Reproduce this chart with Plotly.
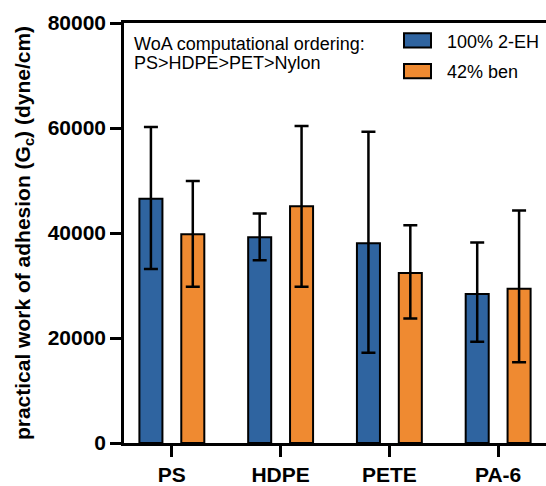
import plotly.graph_objects as go

categories = ["PS", "HDPE", "PETE", "PA-6"]
series_names = ["100% 2-EH", "42% ben"]
eh_values = [46500, 39200, 38050, 28400]
eh_err_plus = [13700, 4500, 21250, 9800]
eh_err_minus = [13350, 4400, 20850, 9100]
ben_values = [39750, 45100, 32400, 29400]
ben_err_plus = [10150, 15300, 9100, 14900]
ben_err_minus = [10000, 15350, 8700, 14000]
y_ticks = [0, 20000, 40000, 60000, 80000]
note_lines = ["WoA computational ordering:", "PS>HDPE>PET>Nylon"]

BLUE = "#2f64a0"
ORANGE = "#ef8a31"
FONT = "Arial, Liberation Sans, Helvetica, sans-serif"

fig = go.Figure()
for name, vals, ep, em, col in [
    (series_names[0], eh_values, eh_err_plus, eh_err_minus, BLUE),
    (series_names[1], ben_values, ben_err_plus, ben_err_minus, ORANGE),
]:
    fig.add_trace(go.Bar(
        x=categories, y=vals, name=name,
        marker=dict(color=col, line=dict(color="black", width=2)),
        error_y=dict(type="data", array=ep, arrayminus=em, symmetric=False,
                     color="black", thickness=2.5, width=7),
        showlegend=False,
    ))

# plot-area geometry in pixels (for placing text/legend in paper coords)
L, R, T, B = 124, 546, 22.7, 446.7
def px(x):
    return (x - L) / (R - L)
def py(y):
    return (B - y) / (B - T)

shapes = []
annotations = []
# manual legend
for i, (name, col) in enumerate(zip(series_names, [BLUE, ORANGE])):
    y0, y1 = [(33, 47.5), (64, 78.5)][i]
    shapes.append(dict(type="rect", xref="paper", yref="paper",
                       x0=px(404), x1=px(431), y0=py(y1), y1=py(y0),
                       fillcolor=col, line=dict(color="black", width=2)))
    annotations.append(dict(xref="paper", yref="paper", x=px(445), y=py([41.5, 72.3][i]),
                            text=name, showarrow=False, xanchor="left", yanchor="middle",
                            font=dict(family=FONT, size=18, color="black")))
for i, line in enumerate(note_lines):
    annotations.append(dict(xref="paper", yref="paper", x=px(132), y=py([43.5, 63][i]),
                            text=line, showarrow=False, xanchor="left", yanchor="middle",
                            font=dict(family=FONT, size=18, color="black")))

fig.update_layout(
    width=546, height=486,
    margin=dict(l=L, r=546 - R, t=T, b=486 - B, pad=0),
    paper_bgcolor="white", plot_bgcolor="white",
    barmode="group", bargap=0.23, bargroupgap=0.45,
    font=dict(family=FONT, color="black"),
    shapes=shapes, annotations=annotations,
    xaxis=dict(
        range=[-0.44, 3.44], showline=True, linecolor="black", linewidth=2.5,
        mirror=True, ticks="outside", ticklen=11, tickwidth=2.5, tickcolor="black",
        tickfont=dict(family=FONT, size=21, color="black", weight="bold"),
        showgrid=False, zeroline=False,
    ),
    yaxis=dict(
        range=[0, 80000], tickvals=y_ticks, tickformat="d",
        showline=True, linecolor="black", linewidth=2.5,
        ticks="outside", ticklen=11, tickwidth=2.5, tickcolor="black",
        tickfont=dict(family=FONT, size=21, color="black", weight="bold"),
        showgrid=False, zeroline=False,
        title=dict(text="practical work of adhesion (G<sub>c</sub>) (dyne/cm)",
                   font=dict(family=FONT, size=21, color="black", weight="bold"),
                   standoff=12),
    ),
)

fig.write_html("out.html")
